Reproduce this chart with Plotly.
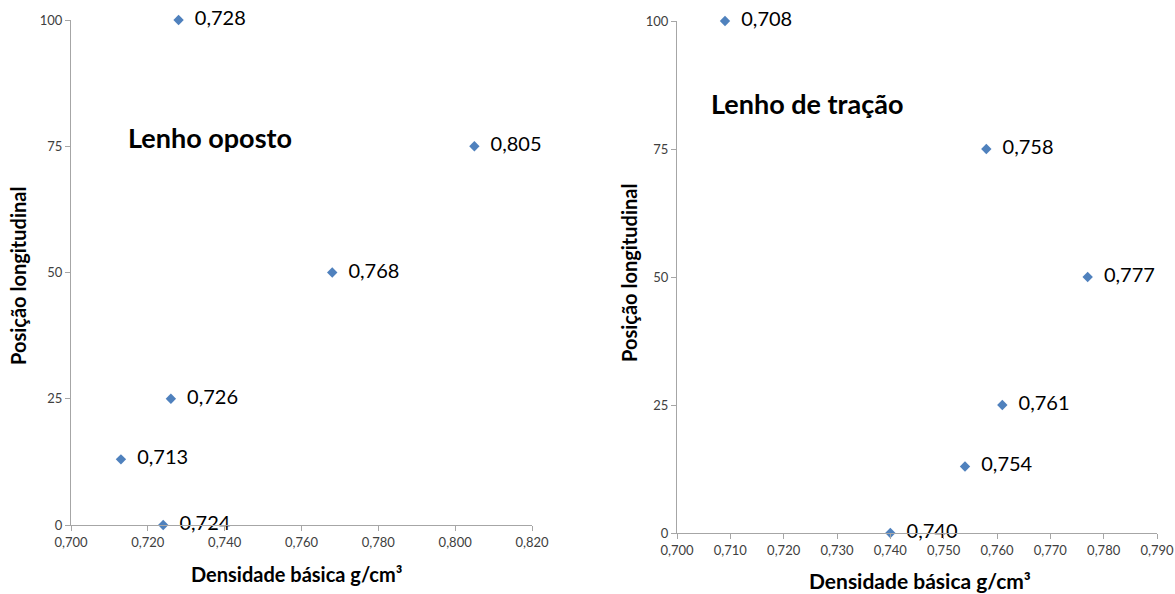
import plotly.graph_objects as go

# Lenho oposto
op_density = [0.724, 0.713, 0.726, 0.768, 0.805, 0.728]
op_position = [0, 13, 25, 50, 75, 100]
op_labels = ["0,724", "0,713", "0,726", "0,768", "0,805", "0,728"]

# Lenho de tração
tr_density = [0.740, 0.754, 0.761, 0.777, 0.758, 0.709]
tr_position = [0, 13, 25, 50, 75, 100]
tr_labels = ["0,740", "0,754", "0,761", "0,777", "0,758", "0,708"]

y_ticks = [0, 25, 50, 75, 100]
op_x_ticks = [0.70, 0.72, 0.74, 0.76, 0.78, 0.80, 0.82]
tr_x_ticks = [0.70, 0.71, 0.72, 0.73, 0.74, 0.75, 0.76, 0.77, 0.78, 0.79]

FONT = "Lato"
MARK = "#4F81BD"
AX = "#A6A6A6"
TICKC = "#404040"

W, H = 1175, 594


def fx(px):
    return px / W


def fy(py):
    return 1 - py / H


fig = go.Figure()
fig.add_trace(go.Scatter(
    x=op_density, y=op_position, mode="markers+text", text=op_labels,
    texttemplate="&nbsp;&nbsp;%{text}",
    textposition="middle right", textfont=dict(size=20, color="#000000", family=FONT),
    marker=dict(symbol="diamond", size=8, color=MARK), xaxis="x", yaxis="y",
    cliponaxis=False, showlegend=False))
fig.add_trace(go.Scatter(
    x=tr_density, y=tr_position, mode="markers+text", text=tr_labels,
    texttemplate="&nbsp;&nbsp;%{text}",
    textposition="middle right", textfont=dict(size=20, color="#000000", family=FONT),
    marker=dict(symbol="diamond", size=8, color=MARK), xaxis="x2", yaxis="y2",
    cliponaxis=False, showlegend=False))

axis_common = dict(showgrid=False, zeroline=False, showline=True, linecolor=AX, linewidth=1,
                   ticks="outside", ticklen=5, tickcolor=AX, automargin=False,
                   tickfont=dict(size=13, color=TICKC, family=FONT))

fig.update_layout(
    width=W, height=H,
    margin=dict(l=0, r=0, t=0, b=0),
    paper_bgcolor="white", plot_bgcolor="white",
    separators=",.",
    xaxis=dict(domain=[fx(71), fx(532)], range=[0.70, 0.82], tickvals=op_x_ticks,
               tickformat=".3f", anchor="y", **axis_common),
    yaxis=dict(domain=[fy(525), fy(20)], range=[0, 100], tickvals=y_ticks,
               anchor="x", **axis_common),
    xaxis2=dict(domain=[fx(677), fx(1157)], range=[0.70, 0.79], tickvals=tr_x_ticks,
                tickformat=".3f", anchor="y2", **axis_common),
    yaxis2=dict(domain=[fy(533), fy(21)], range=[0, 100], tickvals=y_ticks,
                anchor="x2", **axis_common),
    annotations=[
        dict(text="<b>Lenho oposto</b>", x=fx(126), y=fy(137), xref="paper", yref="paper",
             xanchor="left", yanchor="middle", showarrow=False,
             font=dict(size=27, color="#000000", family=FONT)),
        dict(text="<b>Lenho de tração</b>", x=fx(709), y=fy(104), xref="paper", yref="paper",
             xanchor="left", yanchor="middle", showarrow=False,
             font=dict(size=27, color="#000000", family=FONT)),
        dict(text="<b>Densidade básica g/cm³</b>", x=fx(296), y=fy(574), xref="paper", yref="paper",
             xanchor="center", yanchor="middle", showarrow=False,
             font=dict(size=20, color="#000000", family=FONT)),
        dict(text="<b>Densidade básica g/cm³</b>", x=fx(920), y=fy(580), xref="paper", yref="paper",
             xanchor="center", yanchor="middle", showarrow=False,
             font=dict(size=21, color="#000000", family=FONT)),
        dict(text="<b>Posição longitudinal</b>", x=fx(18), y=fy(276), xref="paper", yref="paper",
             xanchor="center", yanchor="middle", showarrow=False, textangle=-90,
             font=dict(size=20, color="#000000", family=FONT)),
        dict(text="<b>Posição longitudinal</b>", x=fx(629), y=fy(273), xref="paper", yref="paper",
             xanchor="center", yanchor="middle", showarrow=False, textangle=-90,
             font=dict(size=20, color="#000000", family=FONT)),
    ],
)

fig.write_html("out.html", config={"displayModeBar": False},
               post_script="document.body.style.margin='0';document.body.style.overflow='hidden';")
